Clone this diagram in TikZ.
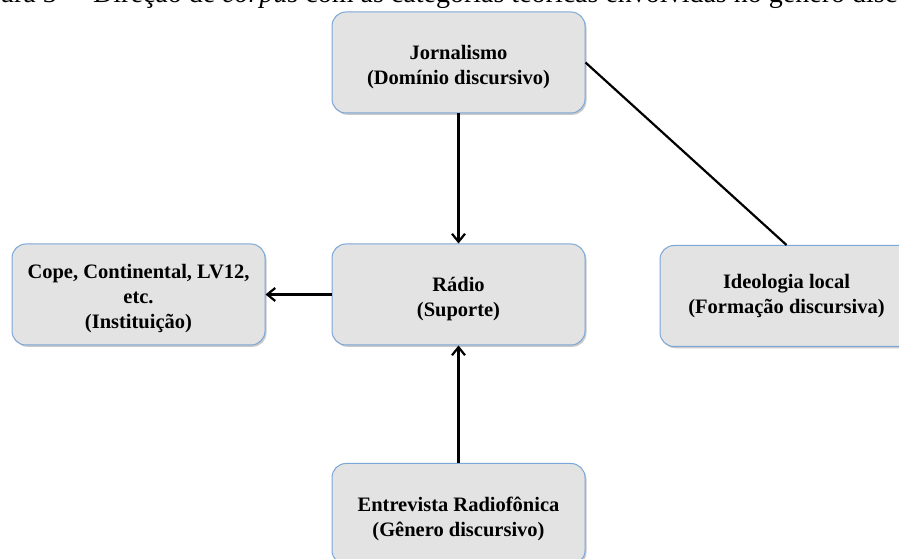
\documentclass[tikz,border=0pt]{standalone}
\usepackage{fontspec}
\setmainfont{Liberation Serif}
\usetikzlibrary{arrows.meta,shadows}
\definecolor{boxfill}{HTML}{E2E3E2}
\definecolor{boxline}{HTML}{7BA7D9}
\newcommand{\boxtxt}[2][-4.5pt]{\raisebox{#1}[\height][\depth]{\begin{tabular}{@{}c@{}}#2\end{tabular}}}
\tikzset{
  catbox/.style={rectangle, rounded corners=14pt, minimum width=253pt, minimum height=101pt,
    fill=boxfill, draw=boxline, line width=1pt, inner sep=2pt,
    font=\fontsize{20.5}{25}\selectfont\bfseries,
    drop shadow={shadow xshift=1.5pt, shadow yshift=-1.8pt, opacity=0.35, fill=black!60}},
  link/.style={line width=2.2pt, draw=black},
  arr/.style={link, -{Straight Barb[length=8pt,width=13pt]}},
  captxt/.style={inner sep=0pt, font=\fontsize{28}{32}\selectfont}
}
\begin{document}
\begin{tikzpicture}[x=1pt,y=1pt]
\useasboundingbox (0,0) rectangle (899,559);
\clip (0,0) rectangle (899,559);
\fill[white] (0,0) rectangle (899,559);
% clipped caption line
\node[captxt, anchor=base east] (capnum) at (78,556) {Figura 3 --};
\node[captxt, anchor=base west] (captext) at (93,556) {Direção de \textit{corpus} com as categorias teóricas envolvidas no gênero discursivo};
% boxes
\node[catbox] (jorn) at (458.5,496.5) {\boxtxt{Jornalismo\\(Domínio discursivo)}};
\node[catbox] (radio) at (458.5,264.5) {\boxtxt{Rádio\\(Suporte)}};
\node[catbox] (cope) at (138.5,264.5) {\boxtxt{Cope, Continental, LV12,\\etc.\\(Instituição)}};
\node[catbox] (ideo) at (786.5,263) {\boxtxt[0pt]{Ideologia local\\(Formação discursiva)}};
\node[catbox] (entre) at (458.5,45) {\boxtxt[-5pt]{Entrevista Radiofônica\\(Gênero discursivo)}};
% connectors
\draw[arr] (jorn) -- (radio);
\draw[arr] (radio) -- (cope);
\draw[arr] (entre) -- (radio);
\draw[link] (jorn.east) -- (ideo.north);
\end{tikzpicture}
\end{document}
